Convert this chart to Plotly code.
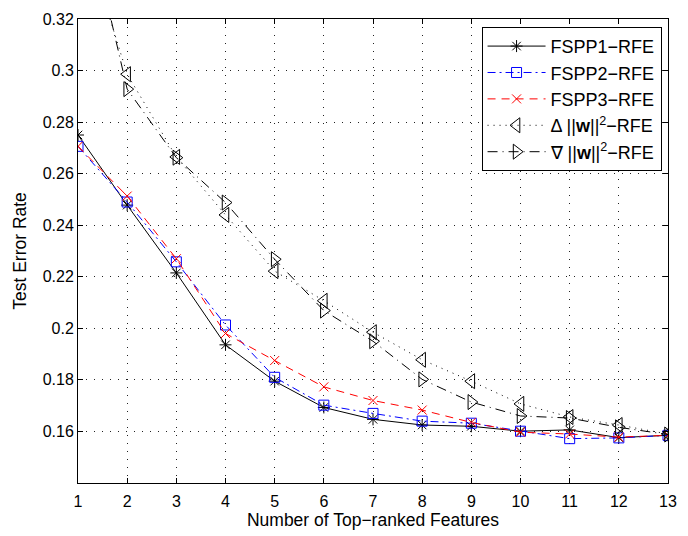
import plotly.graph_objects as go

features = list(range(1, 14))
fspp1 = [0.275, 0.2478, 0.2215, 0.1936, 0.1795, 0.1693, 0.1647, 0.1625, 0.1620, 0.1601, 0.1606, 0.1576, 0.1585]
fspp2 = [0.2706, 0.2490, 0.2258, 0.2013, 0.1810, 0.1702, 0.1670, 0.1640, 0.1632, 0.1601, 0.1572, 0.1575, 0.1585]
fspp3 = [0.2706, 0.2513, 0.2270, 0.1980, 0.1875, 0.1773, 0.1720, 0.1683, 0.1635, 0.1597, 0.1590, 0.1578, 0.1585]
delta_w = [0.360, 0.2986, 0.2665, 0.2440, 0.2222, 0.2107, 0.1985, 0.1878, 0.1795, 0.1707, 0.1656, 0.1625, 0.1590]
nabla_w = [0.375, 0.2928, 0.2662, 0.2488, 0.2268, 0.2069, 0.1950, 0.1802, 0.1714, 0.1660, 0.1652, 0.1616, 0.1588]

ytick_vals = [0.16, 0.18, 0.20, 0.22, 0.24, 0.26, 0.28, 0.30, 0.32]
ytick_text = ["0.16", "0.18", "0.2", "0.22", "0.24", "0.26", "0.28", "0.3", "0.32"]

FONT = "Liberation Sans, Arial, Helvetica"

fig = go.Figure()
fig.add_trace(go.Scatter(x=features, y=fspp1, name="FSPP1\u2212RFE", mode="lines+markers",
                         line=dict(color="black", width=1, dash="solid"),
                         marker=dict(symbol="asterisk-open", size=10, color="black", line=dict(width=1, color="black"))))
fig.add_trace(go.Scatter(x=features, y=fspp2, name="FSPP2\u2212RFE", mode="lines+markers",
                         line=dict(color="blue", width=1, dash="8px,4px,2px,4px"),
                         marker=dict(symbol="square-open", size=10, color="blue", line=dict(width=1, color="blue"))))
fig.add_trace(go.Scatter(x=features, y=fspp3, name="FSPP3\u2212RFE", mode="lines+markers",
                         line=dict(color="red", width=1, dash="8px,6px"),
                         marker=dict(symbol="x-thin-open", size=9, color="red", line=dict(width=1, color="red"))))
fig.add_trace(go.Scatter(x=features, y=delta_w, name="\u0394 ||<b>w</b>||<sup>2</sup>\u2212RFE", mode="lines+markers",
                         line=dict(color="black", width=1, dash="1px,5px"),
                         marker=dict(symbol="triangle-left-open", size=13, color="black", line=dict(width=1, color="black"))))
fig.add_trace(go.Scatter(x=features, y=nabla_w, name="\u2207 ||<b>w</b>||<sup>2</sup>\u2212RFE", mode="lines+markers",
                         line=dict(color="black", width=1, dash="10px,5px,1px,5px"),
                         marker=dict(symbol="triangle-right-open", size=13, color="black", line=dict(width=1, color="black"))))

axis_common = dict(showline=True, linecolor="black", linewidth=1, mirror="ticks", ticks="inside",
                   ticklen=5, tickcolor="black", showgrid=True, gridcolor="#222", griddash="1px,7px",
                   gridwidth=1, zeroline=False, tickfont=dict(family=FONT, size=16, color="black"),
                   title_font=dict(family=FONT, size=17.5, color="black"))

fig.update_xaxes(range=[1, 13], tickvals=features, title_text="Number of Top\u2212ranked Features",
                 title_standoff=1, ticklabelstandoff=4, **axis_common)
fig.update_yaxes(range=[0.14, 0.32], tickvals=ytick_vals, ticktext=ytick_text, title_text="Test Error Rate",
                 title_standoff=11, **axis_common)

fig.update_layout(
    width=688, height=536,
    margin=dict(l=78, r=11, t=14, b=53),
    plot_bgcolor="white", paper_bgcolor="white",
    font=dict(family=FONT, size=16, color="black"),
    legend=dict(x=0.684, y=0.983, xanchor="left", yanchor="top", bgcolor="white",
                bordercolor="black", borderwidth=1, font=dict(family=FONT, size=18),
                tracegroupgap=0, itemwidth=58),
    showlegend=True,
)

fig.write_html("out.html")
